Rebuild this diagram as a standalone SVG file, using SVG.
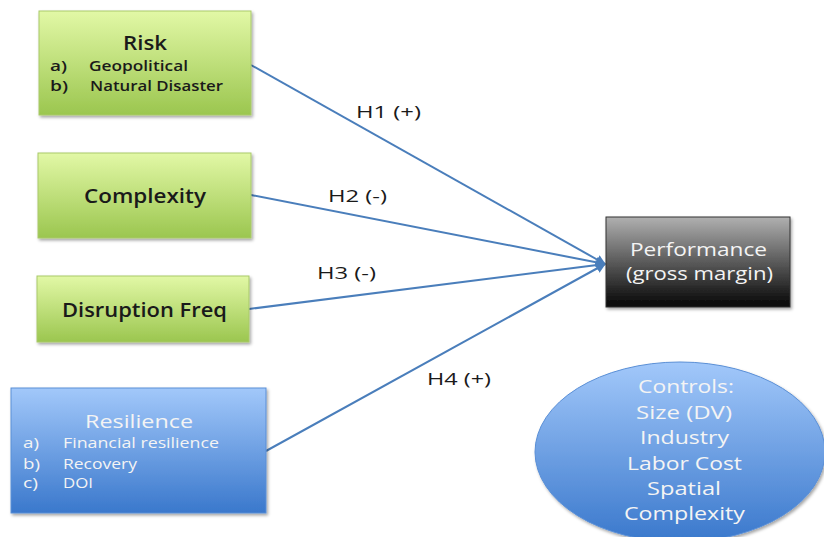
<svg xmlns="http://www.w3.org/2000/svg" width="824" height="537" viewBox="0 0 824 537">
<defs>
<linearGradient id="green" x1="0" y1="0" x2="0" y2="1"><stop offset="0" stop-color="#e2f8a6"/><stop offset="1" stop-color="#9bc64f"/></linearGradient>
<linearGradient id="blue" x1="0" y1="0" x2="0" y2="1"><stop offset="0" stop-color="#a2c8fa"/><stop offset="1" stop-color="#3a78cc"/></linearGradient>
<linearGradient id="gray" x1="0" y1="0" x2="0" y2="1"><stop offset="0" stop-color="#b0b0b0"/><stop offset="1" stop-color="#050505"/></linearGradient>
<filter id="sh" x="-10%" y="-10%" width="130%" height="130%"><feDropShadow dx="1.5" dy="2" stdDeviation="1.5" flood-color="#000" flood-opacity="0.35"/></filter>
<marker id="arr" viewBox="0 0 10 10" refX="9" refY="5" markerWidth="5" markerHeight="5" orient="auto"><path d="M0,0 L10,5 L0,10 z" fill="#4a7ebb"/></marker>
</defs>
<style>
.gbox{fill:url(#green);stroke:#a9c96a;stroke-width:1;filter:url(#sh)}
.bbox{fill:url(#blue);stroke:#5a8fd6;stroke-width:1;filter:url(#sh)}
.t{font-family:"Open Sans","Liberation Sans",sans-serif;fill:#1a1a1a;font-weight:600}
.w{font-family:"Open Sans","Liberation Sans",sans-serif;fill:#f4f4f4}
.lbl{font-family:"Open Sans","Liberation Sans",sans-serif;font-size:17px;fill:#1a1a1a}
.con{stroke:#4a7ebb;stroke-width:2;fill:none;marker-end:url(#arr)}
</style>
<g id="connectors">
<line class="con" x1="251" y1="65" x2="605" y2="264"/>
<line class="con" x1="251" y1="195" x2="605" y2="264"/>
<line class="con" x1="249" y1="309" x2="605" y2="264"/>
<line class="con" x1="266" y1="451" x2="605" y2="264"/>
<text class="lbl" x="356" y="118" textLength="65" lengthAdjust="spacingAndGlyphs">H1 (+)</text>
<text class="lbl" x="328" y="202" textLength="59" lengthAdjust="spacingAndGlyphs">H2 (-)</text>
<text class="lbl" x="317" y="279" textLength="59" lengthAdjust="spacingAndGlyphs">H3 (-)</text>
<text class="lbl" x="427" y="385" textLength="64" lengthAdjust="spacingAndGlyphs">H4 (+)</text>
</g>
<g id="risk">
<rect class="gbox" x="39" y="11" width="212" height="104"/>
<text class="t" x="123" y="50" font-size="19" textLength="44" lengthAdjust="spacingAndGlyphs">Risk</text>
<text class="t" x="50" y="71" font-size="14" textLength="17" lengthAdjust="spacingAndGlyphs">a)</text>
<text class="t" x="89" y="71" font-size="14" textLength="99" lengthAdjust="spacingAndGlyphs">Geopolitical</text>
<text class="t" x="50" y="91" font-size="14" textLength="18" lengthAdjust="spacingAndGlyphs">b)</text>
<text class="t" x="90" y="91" font-size="14" textLength="133" lengthAdjust="spacingAndGlyphs">Natural Disaster</text>
</g>
<g id="complexity">
<rect class="gbox" x="38" y="153" width="213" height="85"/>
<text class="t" x="84" y="203" font-size="19" textLength="122" lengthAdjust="spacingAndGlyphs">Complexity</text>
</g>
<g id="disruption">
<rect class="gbox" x="37" y="276" width="212" height="66"/>
<text class="t" x="62" y="317" font-size="19" textLength="165" lengthAdjust="spacingAndGlyphs">Disruption Freq</text>
</g>
<g id="resilience">
<rect class="bbox" x="11" y="388" width="255" height="125"/>
<text class="w" x="85" y="428" font-size="19" textLength="108" lengthAdjust="spacingAndGlyphs">Resilience</text>
<text class="w" x="23" y="448" font-size="14" textLength="16" lengthAdjust="spacingAndGlyphs">a)</text>
<text class="w" x="63" y="448" font-size="14" textLength="156" lengthAdjust="spacingAndGlyphs">Financial resilience</text>
<text class="w" x="23" y="469" font-size="14" textLength="17" lengthAdjust="spacingAndGlyphs">b)</text>
<text class="w" x="63" y="469" font-size="14" textLength="74" lengthAdjust="spacingAndGlyphs">Recovery</text>
<text class="w" x="23" y="488" font-size="14" textLength="15" lengthAdjust="spacingAndGlyphs">c)</text>
<text class="w" x="63" y="488" font-size="14" textLength="30" lengthAdjust="spacingAndGlyphs">DOI</text>
</g>
<g id="performance">
<rect x="606" y="217" width="184" height="90" fill="url(#gray)" stroke="#333" stroke-width="1" filter="url(#sh)"/>
<text class="w" x="630" y="256" font-size="18" fill="#e8e8e8" textLength="137" lengthAdjust="spacingAndGlyphs">Performance</text>
<text class="w" x="626" y="280" font-size="18" fill="#e8e8e8" textLength="147" lengthAdjust="spacingAndGlyphs">(gross margin)</text>
</g>
<g id="controls">
<ellipse cx="680" cy="452" rx="145" ry="90" fill="url(#blue)" stroke="#5a8fd6" stroke-width="1" filter="url(#sh)"/>
<text class="w" font-size="18">
<tspan x="638" y="393" textLength="96" lengthAdjust="spacingAndGlyphs">Controls:</tspan>
<tspan x="636" y="419" textLength="96" lengthAdjust="spacingAndGlyphs">Size (DV)</tspan>
<tspan x="640" y="444" textLength="89" lengthAdjust="spacingAndGlyphs">Industry</tspan>
<tspan x="627" y="470" textLength="115" lengthAdjust="spacingAndGlyphs">Labor Cost</tspan>
<tspan x="647" y="495" textLength="74" lengthAdjust="spacingAndGlyphs">Spatial</tspan>
<tspan x="624" y="520" textLength="121" lengthAdjust="spacingAndGlyphs">Complexity</tspan>
</text>
</g>
</svg>
